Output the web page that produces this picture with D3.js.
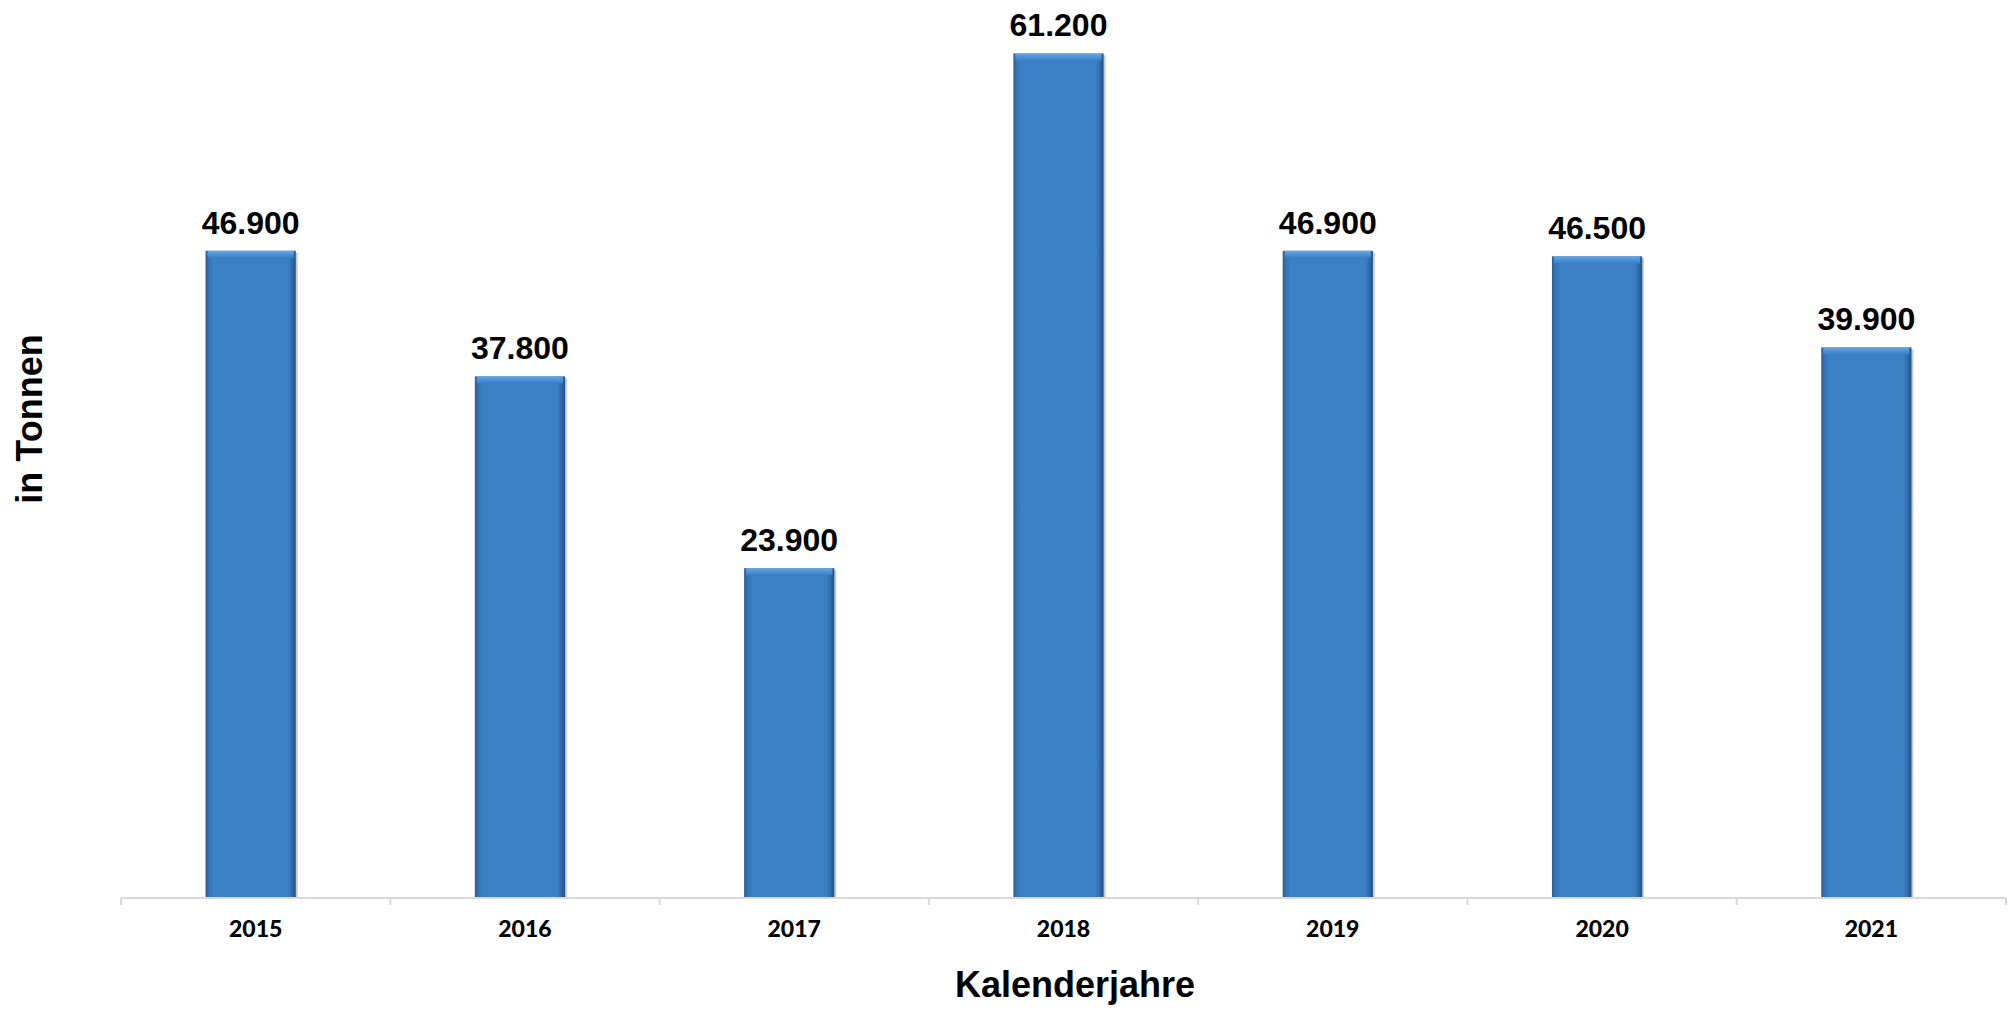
<!DOCTYPE html>
<html>
<head>
<meta charset="utf-8">
<script src="https://cdn.jsdelivr.net/npm/d3@7"></script>
<style>
  html, body { margin: 0; padding: 0; background: #fff; }
  svg { display: block; }
</style>
</head>
<body>
<svg id="chart"></svg>
<script>
const WIDTH = 2011;
const HEIGHT = 1010;

// data (tonnes, in thousands)
const years = ['2015', '2016', '2017', '2018', '2019', '2020', '2021'];
const values = [46.9, 37.8, 23.9, 61.2, 46.9, 46.5, 39.9];
const valueLabels = ['46.900', '37.800', '23.900', '61.200', '46.900', '46.500', '39.900'];

const X_LEFT = 121;
const X_RIGHT = 2006;
const BASELINE = 898;
const BAR_SHIFT = -5; // bars sit slightly left of the category centre

const svg = d3.select('#chart').attr('width', WIDTH).attr('height', HEIGHT);

const xScale = d3.scaleBand().domain(years).range([X_LEFT, X_RIGHT]).paddingInner(0.665).paddingOuter(0.3325);
const yScale = d3.scaleLinear().domain([0, 65]).range([BASELINE, 1]);
const barX = (year) => xScale(year) + BAR_SHIFT;

// gradients for the bevelled bar look
const defs = svg.append('defs');
const sideGrad = defs.append('linearGradient').attr('id', 'barSide').attr('x1', 0).attr('x2', 1).attr('y1', 0).attr('y2', 0);
[['0%', '#2a5f98'], ['4%', '#3674b5'], ['9%', '#3b80c5'], ['91%', '#3b80c5'], ['95%', '#3470b0'], ['100%', '#22507f']]
  .forEach(([o, c]) => sideGrad.append('stop').attr('offset', o).attr('stop-color', c));
const topGrad = defs.append('linearGradient').attr('id', 'barTop').attr('x1', 0).attr('x2', 0).attr('y1', 0).attr('y2', 1);
[['0%', '#6aa6e0'], ['60%', '#4a8fd3'], ['100%', '#3b80c5']]
  .forEach(([o, c]) => topGrad.append('stop').attr('offset', o).attr('stop-color', c));

const data = years.map((year, i) => ({ year, value: values[i], label: valueLabels[i] }));

const bars = svg.append('g').selectAll('g').data(data).enter().append('g');

// soft shadow on the right
bars.append('rect')
  .attr('x', (d) => barX(d.year) + 2)
  .attr('y', (d) => yScale(d.value) + 2)
  .attr('width', xScale.bandwidth())
  .attr('height', (d) => BASELINE - yScale(d.value) - 2)
  .style('fill', '#c8ccd2');

bars.append('rect')
  .attr('x', (d) => barX(d.year))
  .attr('y', (d) => yScale(d.value))
  .attr('width', xScale.bandwidth())
  .attr('height', (d) => BASELINE - yScale(d.value))
  .style('fill', 'url(#barSide)');

bars.append('rect')
  .attr('x', (d) => barX(d.year) + 2)
  .attr('y', (d) => yScale(d.value))
  .attr('width', xScale.bandwidth() - 4)
  .attr('height', 7)
  .style('fill', 'url(#barTop)');

// value labels
bars.append('text')
  .attr('x', (d) => barX(d.year) + xScale.bandwidth() / 2)
  .attr('y', (d) => yScale(d.value) - 17)
  .text((d) => d.label)
  .style('text-anchor', 'middle')
  .style('font-family', '"Liberation Sans", Arial, sans-serif')
  .style('font-weight', 'bold')
  .style('font-size', '32px')
  .style('fill', '#000');

// x axis
const xAxis = svg.append('g').attr('transform', `translate(0, ${BASELINE})`);
xAxis.append('line')
  .attr('x1', X_LEFT).attr('x2', X_RIGHT)
  .attr('y1', 0).attr('y2', 0)
  .style('stroke', '#d9d9d9').style('stroke-width', 2);

const boundaries = years.map((y) => xScale(y) - (xScale.step() * xScale.paddingInner()) / 2);
boundaries.push(X_RIGHT);
xAxis.selectAll('.tick').data(boundaries).enter().append('line')
  .attr('x1', (d) => d).attr('x2', (d) => d)
  .attr('y1', 0).attr('y2', 7)
  .style('stroke', '#d9d9d9').style('stroke-width', 2);

xAxis.selectAll('.year').data(years).enter().append('text')
  .attr('x', (d) => xScale(d) + xScale.bandwidth() / 2)
  .attr('y', 39)
  .text((d) => d)
  .style('text-anchor', 'middle')
  .style('font-family', 'Lato, "Open Sans", sans-serif')
  .style('font-weight', '900')
  .style('font-size', '23px')
  .style('fill', '#000');

// axis titles
svg.append('text')
  .attr('x', 1075)
  .attr('y', 997)
  .text('Kalenderjahre')
  .style('text-anchor', 'middle')
  .style('font-family', '"Liberation Sans", Arial, sans-serif')
  .style('font-weight', 'bold')
  .style('font-size', '36px')
  .style('fill', '#000');

svg.append('text')
  .attr('transform', 'translate(42, 419) rotate(-90)')
  .text('in Tonnen')
  .style('text-anchor', 'middle')
  .style('font-family', '"Liberation Sans", Arial, sans-serif')
  .style('font-weight', 'bold')
  .style('font-size', '36px')
  .style('fill', '#000');
</script>
</body>
</html>
